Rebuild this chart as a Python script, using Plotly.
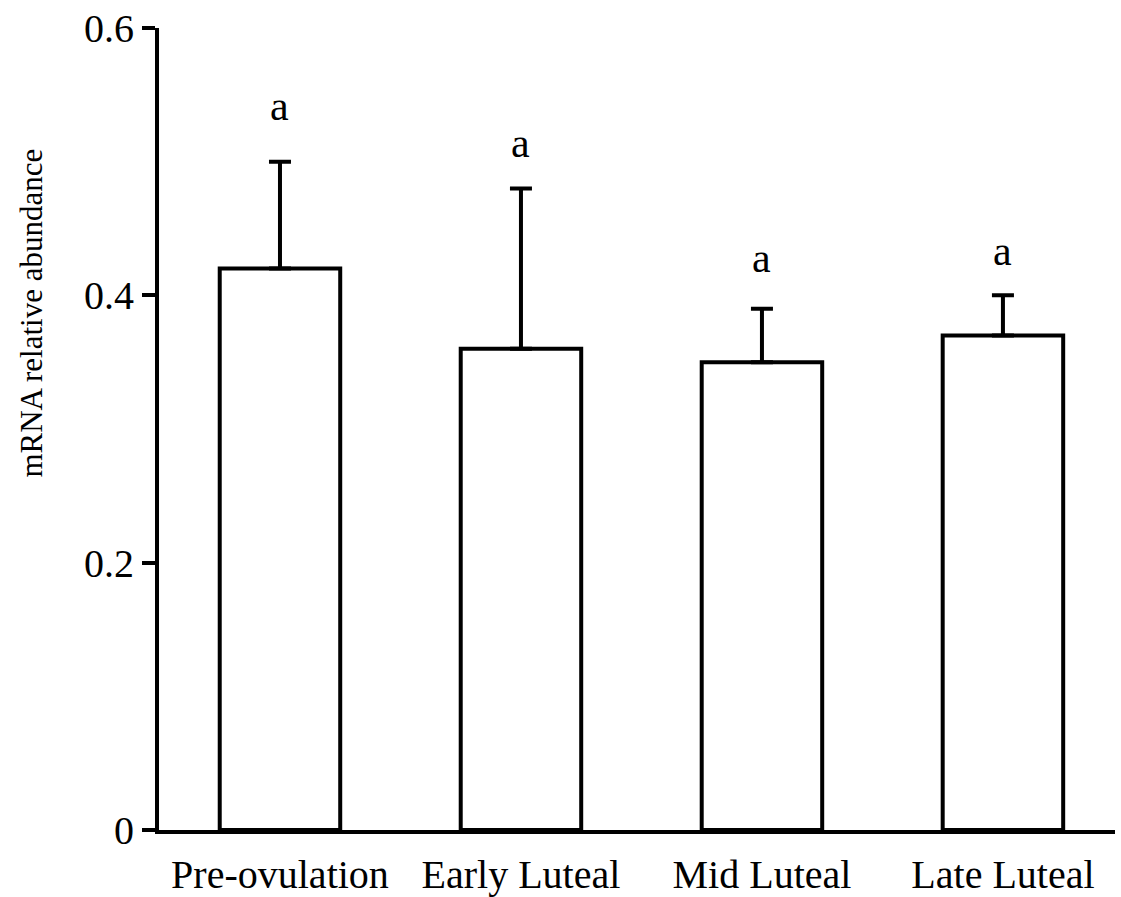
import plotly.graph_objects as go

categories = ["Pre-ovulation", "Early Luteal", "Mid Luteal", "Late Luteal"]
means = [0.42, 0.36, 0.35, 0.37]
errors = [0.08, 0.12, 0.04, 0.03]
letters = ["a", "a", "a", "a"]
letter_y = [0.542, 0.514, 0.428, 0.433]

font_family = "Liberation Serif, Times New Roman, serif"

fig = go.Figure()
fig.add_trace(go.Bar(
    x=list(range(len(categories))),
    y=means,
    width=0.5,
    marker=dict(color="white", line=dict(color="black", width=4)),
    error_y=dict(type="data", symmetric=False, array=errors,
                 arrayminus=[0] * len(errors),
                 color="black", thickness=4, width=11),
    showlegend=False,
))

for i, (lt, ly) in enumerate(zip(letters, letter_y)):
    fig.add_annotation(x=i, y=ly, text=lt, showarrow=False,
                       font=dict(family=font_family, size=42, color="black"),
                       yanchor="middle")

fig.add_annotation(xref="paper", yref="paper", x=-0.133, y=0.645,
                   text="mRNA relative abundance", textangle=-90,
                   showarrow=False, xanchor="center", yanchor="middle",
                   font=dict(family=font_family, size=31, color="black"))

fig.update_layout(
    width=1121, height=897,
    margin=dict(l=159, r=6, t=28, b=67),
    plot_bgcolor="white", paper_bgcolor="white",
    font=dict(family=font_family, color="black"),
    xaxis=dict(
        range=[-0.502, 3.465],
        tickmode="array",
        tickvals=list(range(len(categories))),
        ticktext=categories,
        showline=True, linecolor="black", linewidth=4,
        ticks="", showgrid=False, zeroline=False,
        automargin=False,
        ticklabelstandoff=6,
        tickfont=dict(family=font_family, size=40, color="black"),
    ),
    yaxis=dict(
        range=[0, 0.6],
        tickvals=[0, 0.2, 0.4, 0.6],
        ticktext=["0", "0.2", "0.4", "0.6"],
        showline=True, linecolor="black", linewidth=4,
        ticks="outside", ticklen=13, tickwidth=4, tickcolor="black",
        showgrid=False, zeroline=False,
        automargin=False,
        tickfont=dict(family=font_family, size=40, color="black"),
    ),
)

fig.write_html("out.html")
